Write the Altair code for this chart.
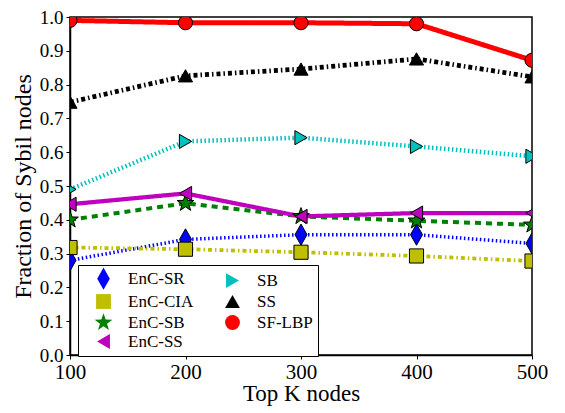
import altair as alt
import pandas as pd

k_values = [100, 200, 300, 400, 500]
series_names = ["EnC-SR", "EnC-CIA", "EnC-SB", "EnC-SS", "SB", "SS", "SF-LBP"]
enc_sr = [0.28, 0.342, 0.356, 0.356, 0.33]
enc_cia = [0.318, 0.313, 0.304, 0.293, 0.278]
enc_sb = [0.40, 0.449, 0.41, 0.397, 0.385]
enc_ss = [0.446, 0.478, 0.41, 0.42, 0.42]
sb = [0.49, 0.632, 0.643, 0.617, 0.588]
ss = [0.748, 0.826, 0.846, 0.876, 0.823]
sf_lbp = [0.99, 0.983, 0.983, 0.98, 0.872]

all_values = [enc_sr, enc_cia, enc_sb, enc_ss, sb, ss, sf_lbp]
rows = []
for name, vals in zip(series_names, all_values):
    for k, v in zip(k_values, vals):
        rows.append({"series": name, "line": name, "k": k, "value": v})
df = pd.DataFrame(rows)

colors = {"EnC-SR": "#0000ff", "EnC-CIA": "#bfbf00", "EnC-SB": "#008000",
          "EnC-SS": "#bf00bf", "SB": "#00bfbf", "SS": "#000000", "SF-LBP": "#ff0000"}
star = ("M0,-1.25L0.294,-0.405L1.189,-0.386L0.475,0.155L0.735,1.011L0,0.5"
        "L-0.735,1.011L-0.475,0.155L-1.189,-0.386L-0.294,-0.405Z")
thin_diamond = "M0,-1.5L0.85,0L0,1.5L-0.85,0Z"
shapes = {"EnC-SR": thin_diamond, "EnC-CIA": "square", "EnC-SB": star,
          "EnC-SS": "triangle-left", "SB": "triangle-right", "SS": "triangle-up",
          "SF-LBP": "circle"}
dashes = {"EnC-SR": [1.5, 2.5], "EnC-CIA": [4, 3, 1.5, 3], "EnC-SB": [6, 5],
          "EnC-SS": [1, 0], "SB": [1.5, 2.5], "SS": [4, 3, 1.5, 3], "SF-LBP": [1, 0]}
widths = {"EnC-SR": 3, "EnC-CIA": 3, "EnC-SB": 4, "EnC-SS": 4.5, "SB": 3, "SS": 3.5, "SF-LBP": 5}

# hidden line legends use another domain order so they do not merge with the point legend
line_order = list(reversed(series_names))

FONT = "Liberation Serif"

x_enc = alt.X("k:Q", scale=alt.Scale(domain=[100, 500], nice=False),
              axis=alt.Axis(title="Top K nodes", values=k_values, format="d",
                            labelFontSize=21, titleFontSize=23, grid=False,
                            labelFont=FONT, titleFont=FONT,
                            labelFlush=False, tickSize=4, domainColor="black",
                            tickColor="black", labelColor="black", titleColor="black",
                            titlePadding=0, titleFontWeight="normal", labelPadding=2))
y_enc = alt.Y("value:Q", scale=alt.Scale(domain=[0, 1], nice=False),
              axis=alt.Axis(title="Fraction of Sybil nodes", values=[i / 10 for i in range(11)],
                            format=".1f", labelFontSize=19, titleFontSize=24, grid=False,
                            labelFont=FONT, titleFont=FONT,
                            labelFlush=False, tickSize=4, domainColor="black",
                            tickColor="black", labelColor="black", titleColor="black",
                            titlePadding=4, titleFontWeight="normal", labelPadding=3))

legend = alt.Legend(title=None, orient="none", legendX=8, legendY=248,
                    columns=2, columnPadding=18, rowPadding=0,
                    symbolSize=220, symbolStrokeColor="black",
                    symbolStrokeWidth=1, labelFontSize=17, labelFont=FONT,
                    labelColor="black", strokeColor="black",
                    fillColor="white", padding=5, symbolOffset=12,
                    labelOffset=16)

lines = alt.Chart(df).mark_line(clip=True).encode(
    x=x_enc, y=y_enc,
    color=alt.Color("line:N", scale=alt.Scale(domain=line_order,
                    range=[colors[s] for s in line_order]), legend=None),
    strokeDash=alt.StrokeDash("line:N", scale=alt.Scale(domain=line_order,
                    range=[dashes[s] for s in line_order]), legend=None),
    strokeWidth=alt.StrokeWidth("line:N", scale=alt.Scale(domain=line_order,
                    range=[widths[s] for s in line_order]), legend=None),
    detail="line:N",
)

points = alt.Chart(df).mark_point(filled=True, clip=True, size=200, stroke="black",
                                  strokeWidth=1, opacity=1).encode(
    x=x_enc, y=y_enc,
    fill=alt.Fill("series:N", scale=alt.Scale(domain=series_names,
                  range=[colors[s] for s in series_names]), legend=legend),
    shape=alt.Shape("series:N", scale=alt.Scale(domain=series_names,
                    range=[shapes[s] for s in series_names]), legend=legend),
)

chart = alt.layer(lines, points).properties(
    width=462, height=338,
    autosize=alt.AutoSizeParams(type="none"),
    padding={"left": 62, "top": 9, "right": 20, "bottom": 58},
).configure(
    font=FONT
).configure_view(stroke="black", strokeWidth=1.5).configure_axis(domainWidth=1.5)

chart.save("out.html", embed_options={"renderer": "svg", "actions": False})
